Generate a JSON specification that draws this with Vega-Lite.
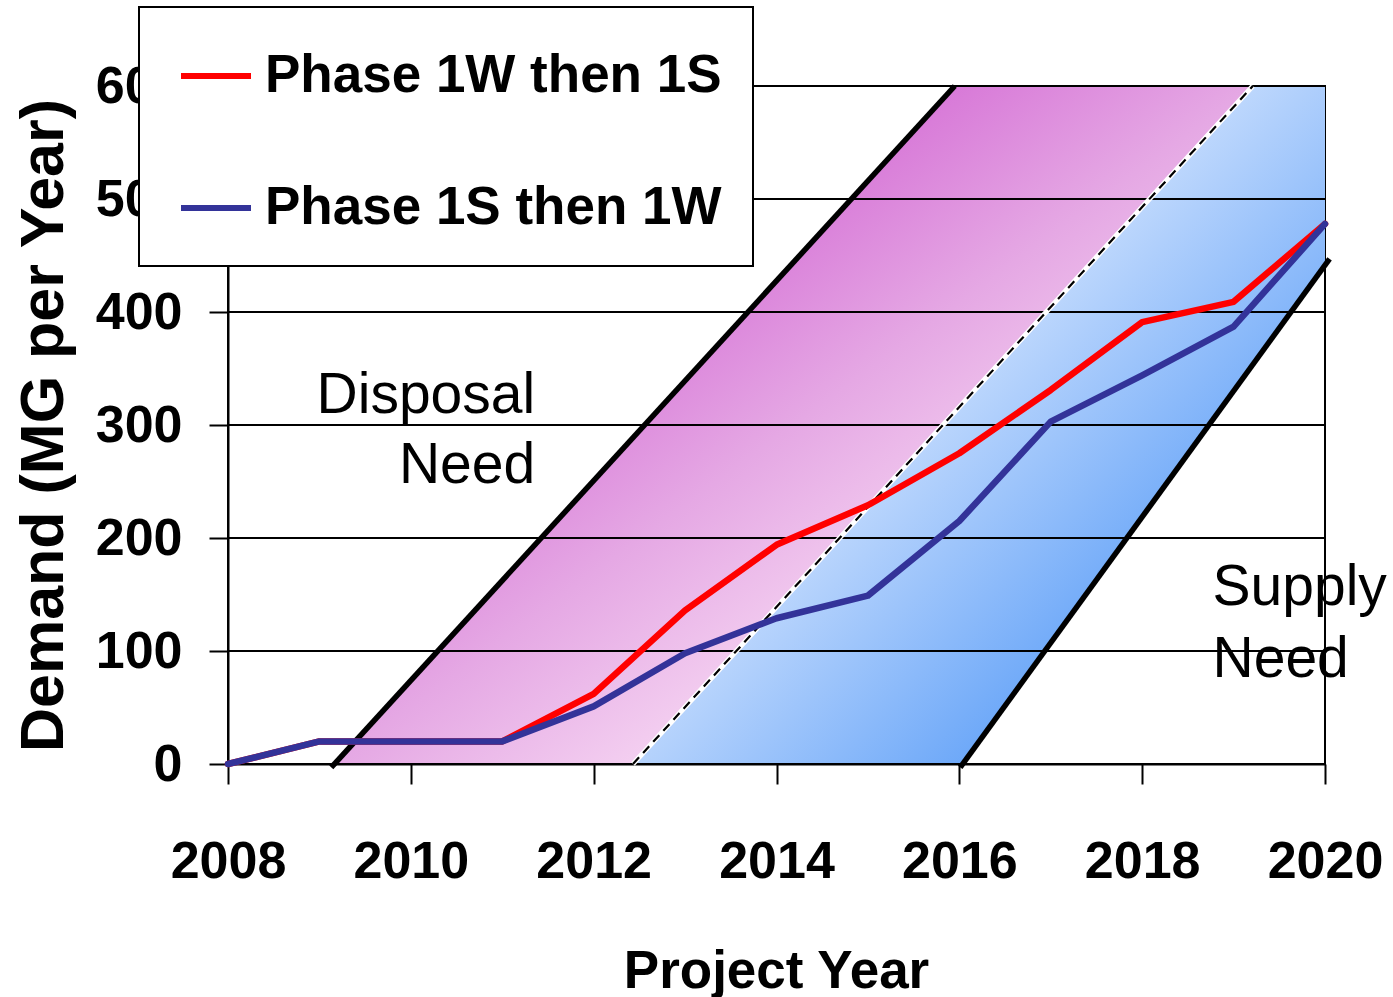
{
  "$schema": "https://vega.github.io/schema/vega-lite/v6.json",
  "width": 1097,
  "height": 678,
  "autosize": "none",
  "padding": {"left": 228, "top": 86, "right": 68, "bottom": 233},
  "background": "white",
  "config": {
    "font": "Liberation Sans",
    "view": {"stroke": "black", "strokeWidth": 2},
    "legend": {
      "orient": "none",
      "legendX": -89,
      "legendY": -79,
      "title": null,
      "fillColor": "white",
      "strokeColor": "black",
      "strokeWidth": 2,
      "padding": 31,
      "symbolType": "stroke",
      "symbolStrokeWidth": 6,
      "symbolSize": 4900,
      "symbolOffset": 8,
      "labelFont": "Liberation Sans",
      "labelFontSize": 53,
      "labelFontWeight": "bold",
      "labelColor": "black",
      "labelLimit": 900,
      "labelOffset": 11,
      "rowPadding": 67
    }
  },
  "datasets": {
    "lines": [
      {"year": 2008, "value": 0, "series": "Phase 1W then 1S"},
      {"year": 2009, "value": 20, "series": "Phase 1W then 1S"},
      {"year": 2010, "value": 20, "series": "Phase 1W then 1S"},
      {"year": 2011, "value": 20, "series": "Phase 1W then 1S"},
      {"year": 2012, "value": 62, "series": "Phase 1W then 1S"},
      {"year": 2013, "value": 136, "series": "Phase 1W then 1S"},
      {"year": 2014, "value": 194, "series": "Phase 1W then 1S"},
      {"year": 2015, "value": 229, "series": "Phase 1W then 1S"},
      {"year": 2016, "value": 275, "series": "Phase 1W then 1S"},
      {"year": 2017, "value": 331, "series": "Phase 1W then 1S"},
      {"year": 2018, "value": 391, "series": "Phase 1W then 1S"},
      {"year": 2019, "value": 409, "series": "Phase 1W then 1S"},
      {"year": 2020, "value": 478, "series": "Phase 1W then 1S"},
      {"year": 2008, "value": 0, "series": "Phase 1S then 1W"},
      {"year": 2009, "value": 20, "series": "Phase 1S then 1W"},
      {"year": 2010, "value": 20, "series": "Phase 1S then 1W"},
      {"year": 2011, "value": 20, "series": "Phase 1S then 1W"},
      {"year": 2012, "value": 51, "series": "Phase 1S then 1W"},
      {"year": 2013, "value": 98, "series": "Phase 1S then 1W"},
      {"year": 2014, "value": 129, "series": "Phase 1S then 1W"},
      {"year": 2015, "value": 149, "series": "Phase 1S then 1W"},
      {"year": 2016, "value": 215, "series": "Phase 1S then 1W"},
      {"year": 2017, "value": 303, "series": "Phase 1S then 1W"},
      {"year": 2018, "value": 344, "series": "Phase 1S then 1W"},
      {"year": 2019, "value": 387, "series": "Phase 1S then 1W"},
      {"year": 2020, "value": 478, "series": "Phase 1S then 1W"}
    ],
    "disposal": [
      {"v": 0, "xl": 2009.16, "xr": 2012.43},
      {"v": 600, "xl": 2015.95, "xr": 2019.21}
    ],
    "supply": [
      {"v": 0, "xl": 2012.43, "xr": 2016.03},
      {"v": 441, "xl": 2017.41, "xr": 2020},
      {"v": 600, "xl": 2019.21, "xr": 2020}
    ],
    "edges": [
      {"edge": "left", "x": 2009.13, "y": -3},
      {"edge": "left", "x": 2015.95, "y": 600},
      {"edge": "right", "x": 2016.01, "y": -3},
      {"edge": "right", "x": 2020.05, "y": 447}
    ],
    "divider": [
      {"x": 2012.43, "y": 0},
      {"x": 2019.21, "y": 600}
    ],
    "grid": [
      {"y": 0}, {"y": 100}, {"y": 200}, {"y": 300}, {"y": 400}, {"y": 500}, {"y": 600}
    ],
    "disposalText": [
      {"x": 2011.36, "y": 311, "t": "Disposal"},
      {"x": 2011.36, "y": 249, "t": "Need"}
    ],
    "supplyText": [
      {"x": 2018.77, "y": 141, "t": "Supply"},
      {"x": 2018.77, "y": 77, "t": "Need"}
    ]
  },
  "encoding": {
    "x": {
      "type": "quantitative",
      "scale": {"domain": [2008, 2020], "nice": false, "zero": false}
    },
    "y": {
      "type": "quantitative",
      "scale": {"domain": [0, 600], "nice": false}
    }
  },
  "layer": [
    {
      "data": {"name": "disposal"},
      "mark": {
        "type": "area",
        "orient": "horizontal",
        "fill": {
          "gradient": "linear",
          "x1": 0, "y1": 0, "x2": 1, "y2": 1,
          "stops": [
            {"offset": 0, "color": "#d478d6"},
            {"offset": 0.34, "color": "#d87ad8"},
            {"offset": 0.5, "color": "#e5a8e4"},
            {"offset": 0.66, "color": "#f3cef0"},
            {"offset": 1, "color": "#f6dcf4"}
          ]
        }
      },
      "encoding": {
        "y": {"field": "v", "type": "quantitative", "axis": {
          "values": [0, 100, 200, 300, 400, 500, 600],
          "grid": false,
          "domainColor": "black", "domainWidth": 2,
          "tickColor": "black", "tickWidth": 2, "tickSize": 19,
          "labelFont": "Liberation Sans", "labelFontSize": 52, "labelFontWeight": "bold", "labelColor": "black",
          "labelPadding": 27, "labelFlush": false, "labelOverlap": false,
          "title": "Demand (MG per Year)",
          "titleFont": "Liberation Sans", "titleFontSize": 61, "titleFontWeight": "bold", "titleColor": "black",
          "titleAngle": 270, "titleX": -166, "titleY": 339, "titleAlign": "center", "titleBaseline": "alphabetic"
        }},
        "x": {"field": "xl", "type": "quantitative", "axis": {
          "values": [2008, 2010, 2012, 2014, 2016, 2018, 2020],
          "format": "d",
          "grid": false,
          "domainColor": "black", "domainWidth": 2,
          "tickColor": "black", "tickWidth": 2, "tickSize": 20,
          "labelFont": "Liberation Sans", "labelFontSize": 52, "labelFontWeight": "bold", "labelColor": "black",
          "labelBaseline": "alphabetic", "labelPadding": 93, "labelFlush": false, "labelOverlap": false,
          "title": "Project Year",
          "titleFont": "Liberation Sans", "titleFontSize": 53, "titleFontWeight": "bold", "titleColor": "black",
          "titleX": 548, "titleY": 223, "titleAlign": "center", "titleBaseline": "alphabetic"
        }},
        "x2": {"field": "xr"}
      }
    },
    {
      "data": {"name": "supply"},
      "mark": {
        "type": "area",
        "orient": "horizontal",
        "fill": {
          "gradient": "linear",
          "x1": 0.42, "y1": 0.47, "x2": 0.74, "y2": 0.77,
          "stops": [
            {"offset": 0, "color": "#c2dafd"},
            {"offset": 1, "color": "#66a4f8"}
          ]
        }
      },
      "encoding": {
        "y": {"field": "v", "type": "quantitative"},
        "x": {"field": "xl", "type": "quantitative"},
        "x2": {"field": "xr"}
      }
    },
    {
      "data": {"name": "grid"},
      "mark": {"type": "rule", "color": "black", "strokeWidth": 2.2},
      "encoding": {"y": {"field": "y", "type": "quantitative"}}
    },
    {
      "data": {"name": "edges"},
      "mark": {"type": "line", "color": "black", "strokeWidth": 5.5},
      "encoding": {
        "x": {"field": "x", "type": "quantitative"},
        "y": {"field": "y", "type": "quantitative"},
        "detail": {"field": "edge"}
      }
    },
    {
      "data": {"name": "divider"},
      "mark": {"type": "line", "color": "white", "strokeWidth": 5},
      "encoding": {
        "x": {"field": "x", "type": "quantitative"},
        "y": {"field": "y", "type": "quantitative"}
      }
    },
    {
      "data": {"name": "divider"},
      "mark": {"type": "line", "color": "black", "strokeWidth": 2.2, "strokeDash": [9, 6]},
      "encoding": {
        "x": {"field": "x", "type": "quantitative"},
        "y": {"field": "y", "type": "quantitative"}
      }
    },
    {
      "data": {"name": "lines"},
      "mark": {"type": "line", "strokeWidth": 6.5, "strokeJoin": "round", "strokeCap": "round"},
      "encoding": {
        "x": {"field": "year", "type": "quantitative"},
        "y": {"field": "value", "type": "quantitative"},
        "color": {
          "field": "series", "type": "nominal",
          "scale": {"domain": ["Phase 1W then 1S", "Phase 1S then 1W"], "range": ["#ff0000", "#333399"]},
          "legend": {}
        }
      }
    },
    {
      "data": {"name": "disposalText"},
      "mark": {"type": "text", "align": "right", "baseline": "alphabetic", "font": "Liberation Sans", "fontSize": 57, "color": "black"},
      "encoding": {
        "x": {"field": "x", "type": "quantitative"},
        "y": {"field": "y", "type": "quantitative"},
        "text": {"field": "t"}
      }
    },
    {
      "data": {"name": "supplyText"},
      "mark": {"type": "text", "align": "left", "baseline": "alphabetic", "font": "Liberation Sans", "fontSize": 57, "color": "black"},
      "encoding": {
        "x": {"field": "x", "type": "quantitative"},
        "y": {"field": "y", "type": "quantitative"},
        "text": {"field": "t"}
      }
    }
  ]
}
